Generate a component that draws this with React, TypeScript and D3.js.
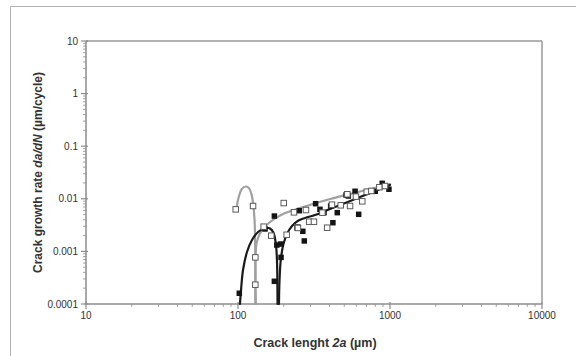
import * as React from "react";
import * as d3 from "d3";

// open squares (grey series), crack length 2a (µm) and da/dN (µm/cycle)
const openX = [96.6, 125.6, 130, 130, 147.5, 165.5, 200, 233.5, 209, 245.5, 280, 294, 316, 248, 359, 415, 386, 474, 546, 524, 597, 657, 703, 754, 851, 927];
const openY = [0.0063, 0.0073, 0.00077, 0.000233, 0.00295, 0.00199, 0.0083, 0.00553, 0.00207, 0.00287, 0.00612, 0.00367, 0.00367, 0.00279, 0.00545, 0.00773, 0.00282, 0.00752, 0.0073, 0.0122, 0.011, 0.00896, 0.01365, 0.0141, 0.0166, 0.0175];

// filled squares (black series)
const fillX = [102, 173.5, 150.6, 180, 173.5, 190.5, 192, 253, 267, 273, 324, 346, 368, 407, 450, 421, 622, 514, 532, 589, 800, 889, 984];
const fillY = [0.00016, 0.0047, 0.00267, 0.00132, 0.00027, 0.00138, 0.00077, 0.00594, 0.00241, 0.00158, 0.00807, 0.0063, 0.00545, 0.0073, 0.00545, 0.00351, 0.00507, 0.0118, 0.0113, 0.0139, 0.0139, 0.0197, 0.0152];

// fitted curves
const greyArchX = [98, 101.6, 106, 112.4, 118, 122.6, 126.1, 128.5, 129.8, 130];
const greyArchY = [0.00708, 0.0113, 0.01535, 0.01714, 0.016, 0.0123, 0.0076, 0.00395, 0.00106, 0.0001];
const greyTrendX = [131, 131.8, 135.5, 143.9, 162.5, 197.7, 255.8, 403, 635, 1000];
const greyTrendY = [0.0001, 0.00132, 0.0018, 0.00255, 0.00362, 0.00514, 0.00668, 0.0099, 0.01377, 0.0191];
const blackArchX = [103, 104.7, 107.9, 114.6, 123.6, 135.5, 150.7, 162.5, 171.4, 177.8, 180.6, 182];
const blackArchY = [0.0001, 0.000184, 0.000443, 0.000975, 0.00165, 0.00234, 0.00279, 0.00272, 0.00224, 0.00132, 0.000628, 0.0001];
const blackTrendX = [186, 187.6, 191.8, 200.8, 216.7, 241, 276, 321, 403, 635, 1000];
const blackTrendY = [0.0001, 0.000286, 0.00075, 0.00151, 0.00255, 0.00362, 0.00432, 0.00492, 0.0064, 0.0108, 0.0183];

const xTicks = [10, 100, 1000, 10000];
const yTicks = [10, 1, 0.1, 0.01, 0.001, 0.0001];

const W = 576;
const H = 356;
const plot = { left: 86, right: 542, top: 41, bottom: 304 };

export default function App() {
  const x = d3.scaleLog().domain([10, 10000]).range([plot.left, plot.right]);
  const y = d3.scaleLog().domain([0.0001, 10]).range([plot.bottom, plot.top]);

  const line = d3
    .line<[number, number]>()
    .x((d) => x(d[0]))
    .y((d) => y(d[1]))
    .curve(d3.curveCatmullRom.alpha(0.5));

  const zip = (a: number[], b: number[]) => a.map((v, i) => [v, b[i]] as [number, number]);

  // minor ticks 2..9 for each decade
  const minorX: number[] = [];
  for (let d = 10; d < 10000; d *= 10) for (let k = 2; k <= 9; k++) minorX.push(d * k);
  const minorY: number[] = [];
  for (let d = 0.0001; d < 9; d *= 10) for (let k = 2; k <= 9; k++) minorY.push(d * k);

  const axisColor = "#8c8c8c";
  const font = "'Liberation Sans', Arial, sans-serif";
  const sq = 5.5;

  return (
    <svg
      width={W}
      height={H}
      style={{ position: "absolute", left: 0, top: 0, background: "#fff" }}
      fontFamily={font}
    >
      {/* outer chart frame */}
      <rect x={10.5} y={6.5} width={620} height={400} fill="none" stroke="#b4b4b4" strokeWidth={1} />

      {/* plot frame */}
      <line x1={plot.left} x2={plot.right} y1={plot.top} y2={plot.top} stroke="#9a9a9a" strokeWidth={1.5} />
      <line x1={plot.right} x2={plot.right} y1={plot.top} y2={plot.bottom} stroke="#9a9a9a" strokeWidth={1.5} />

      {/* y axis */}
      <line x1={plot.left} x2={plot.left} y1={plot.top} y2={plot.bottom} stroke={axisColor} strokeWidth={1.5} />
      {minorY.map((v) => (
        <line key={"my" + v} x1={plot.left - 3} x2={plot.left} y1={y(v)} y2={y(v)} stroke={axisColor} strokeWidth={0.8} />
      ))}
      {yTicks.map((v) => (
        <g key={"y" + v}>
          <line x1={plot.left - 5} x2={plot.left + 2} y1={y(v)} y2={y(v)} stroke={axisColor} strokeWidth={1.2} />
          <text x={plot.left - 8} y={y(v) + 3.5} fontSize={10} textAnchor="end" fill="#333">
            {String(v)}
          </text>
        </g>
      ))}

      {/* x axis */}
      <line x1={plot.left} x2={plot.right} y1={plot.bottom} y2={plot.bottom} stroke={axisColor} strokeWidth={1.5} />
      {minorX.map((v) => (
        <line key={"mx" + v} x1={x(v)} x2={x(v)} y1={plot.bottom} y2={plot.bottom + 3} stroke={axisColor} strokeWidth={0.8} />
      ))}
      {xTicks.map((v) => (
        <g key={"x" + v}>
          <line x1={x(v)} x2={x(v)} y1={plot.bottom - 2} y2={plot.bottom + 5} stroke={axisColor} strokeWidth={1.2} />
          <text x={x(v)} y={plot.bottom + 15} fontSize={10} textAnchor="middle" fill="#333">
            {String(v)}
          </text>
        </g>
      ))}

      {/* axis titles */}
      <text x={315} y={347} fontSize={12.5} fontWeight="bold" textAnchor="middle" fill="#333">
        Crack lenght <tspan fontStyle="italic">2a</tspan> (µm)
      </text>
      <text
        transform={`translate(42 ${(plot.top + plot.bottom) / 2}) rotate(-90)`}
        fontSize={12}
        fontWeight="bold"
        textAnchor="middle"
        fill="#333"
      >
        Crack growth rate <tspan fontStyle="italic">da/dN</tspan> (µm/cycle)
      </text>

      {/* fitted curves */}
      <g fill="none" strokeWidth={2.2} strokeLinecap="round">
        <path d={line(zip(greyArchX, greyArchY)) || ""} stroke="#a0a0a0" />
        <path d={line(zip(greyTrendX, greyTrendY)) || ""} stroke="#a0a0a0" />
        <path d={line(zip(blackArchX, blackArchY)) || ""} stroke="#1a1a1a" />
        <path d={line(zip(blackTrendX, blackTrendY)) || ""} stroke="#1a1a1a" />
      </g>

      {/* data markers */}
      {fillX.map((v, i) => (
        <rect key={"f" + i} x={x(v) - sq / 2} y={y(fillY[i]) - sq / 2} width={sq} height={sq} fill="#141414" />
      ))}
      {openX.map((v, i) => (
        <rect
          key={"o" + i}
          x={x(v) - sq / 2}
          y={y(openY[i]) - sq / 2}
          width={sq}
          height={sq}
          fill="#fff"
          stroke="#5a5a5a"
          strokeWidth={1}
        />
      ))}
    </svg>
  );
}
